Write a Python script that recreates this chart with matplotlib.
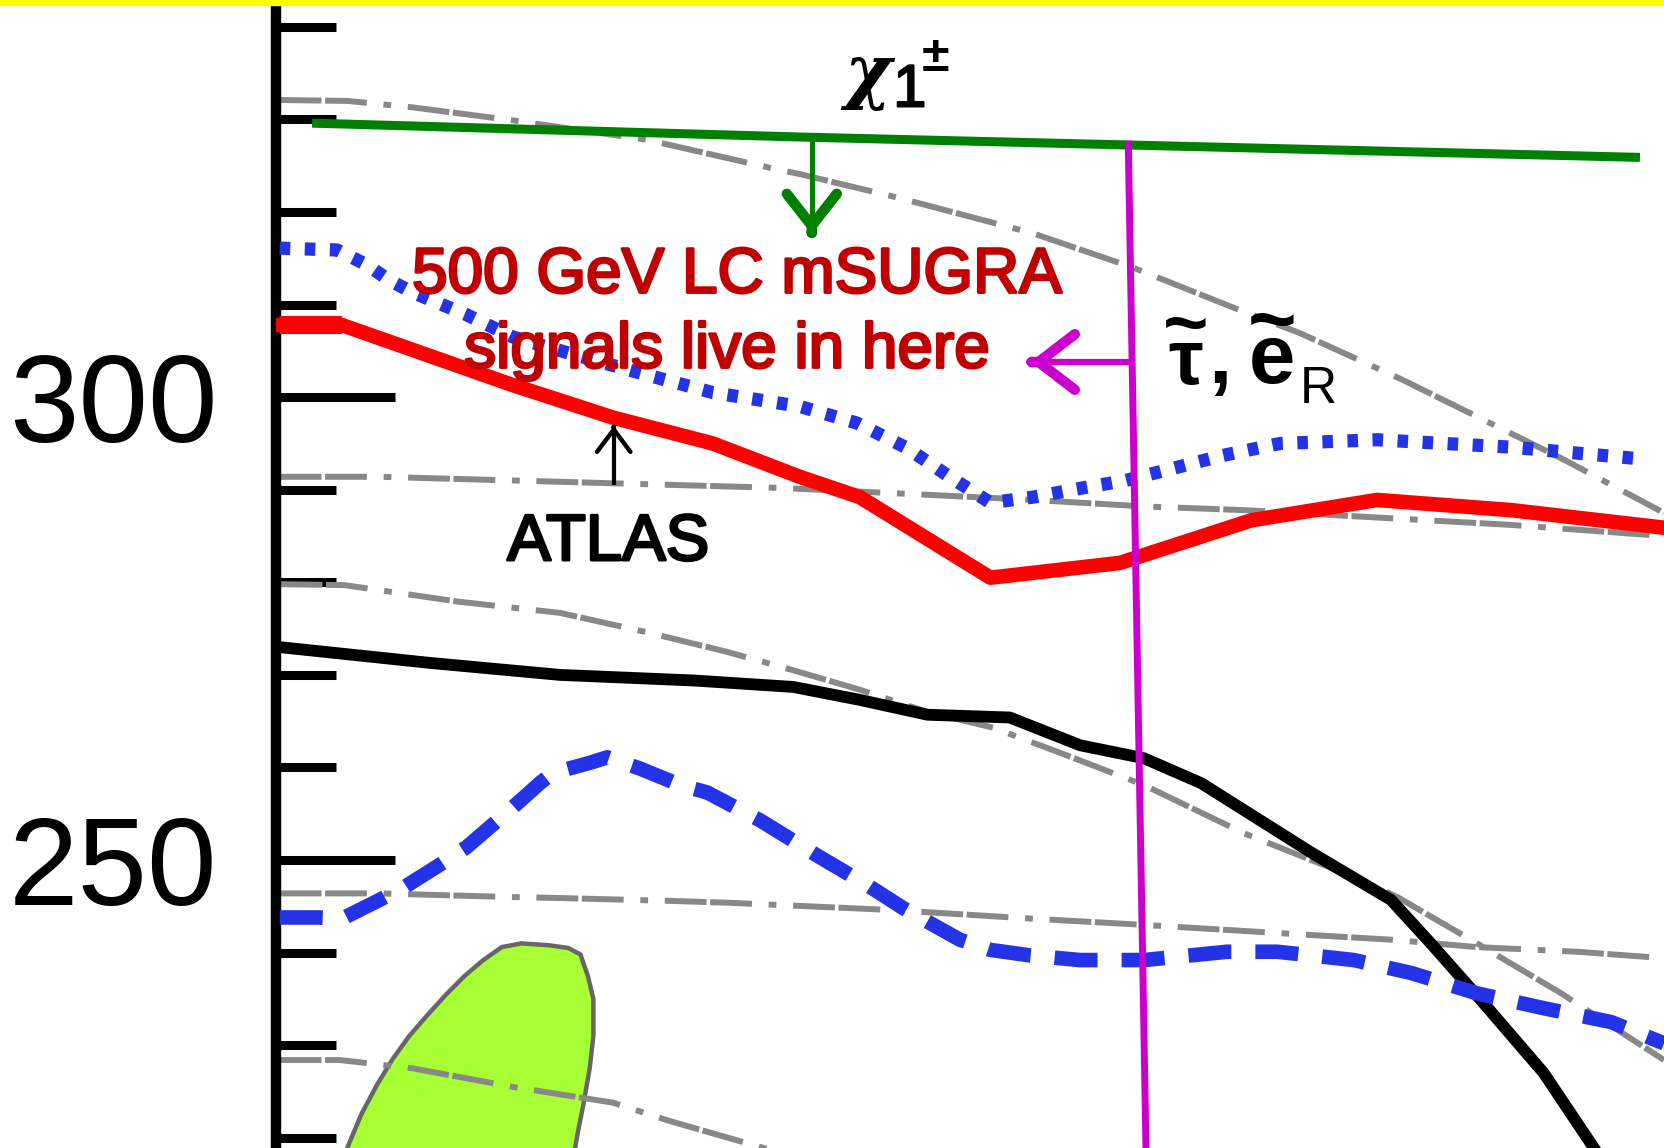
import numpy as np
import matplotlib
matplotlib.use("Agg")
import matplotlib.pyplot as plt
from matplotlib.lines import Line2D
from matplotlib import patheffects as pe

plt.rcParams['font.family'] = ['Liberation Sans', 'DejaVu Sans']

# --- curves (x in arbitrary m0-like units, y in GeV) ---
chargino_x = [3.9, 56.6, 147.4]
chargino_y = [329.6, 328.1, 325.9]

atlas_x = [0.4, 7.1, 14.8, 25.6, 36.4, 47.2, 56.6, 63.1, 77.2, 91.2, 105.4, 119.0, 133.5, 150.0]
atlas_y = [307.8, 307.8, 305.1, 301.3, 297.8, 295.0, 291.4, 289.2, 280.5, 282.1, 286.7, 288.9, 287.8, 285.9]

dotted_x = [0.4, 6.6, 9.8, 12.3, 14.8, 20.6, 25.6, 31.5, 40.1, 47.2, 56.6, 62.8, 68.2, 72.8,
            77.2, 81.8, 87.2, 91.8, 96.9, 102.3, 108.5, 119.0, 133.5, 147.9]
dotted_y = [316.1, 315.9, 314.3, 312.6, 311.3, 308.9, 306.5, 304.8, 302.4, 300.5, 299.0, 297.2,
            294.5, 291.4, 288.6, 289.2, 290.2, 291.0, 292.3, 293.7, 295.0, 295.4, 294.6, 293.3]

dashed_x = [0.4, 4.5, 7.2, 11.2, 13.9, 17.7, 20.6, 25.6, 28.5, 29.9, 33.9, 35.8, 39.3, 43.7,
            46.6, 52.3, 58.8, 63.9, 67.8, 73.9, 77.2, 81.5, 86.9, 93.8, 102.8, 108.2, 116.5,
            122.7, 129.8, 137.0, 144.3, 150.0]
dashed_y = [243.8, 243.8, 243.7, 245.7, 247.1, 249.5, 251.4, 255.7, 258.3, 259.4, 260.5, 261.1,
            259.9, 258.1, 257.3, 254.3, 250.3, 247.3, 244.8, 241.4, 240.3, 239.7, 239.2, 239.2,
            240.1, 240.1, 239.2, 237.8, 235.6, 234.0, 232.5, 230.2]

black_x = [0.4, 16.6, 30.7, 45.1, 55.9, 63.1, 70.4, 79.3, 86.9, 93.8, 100.0, 111.9, 120.5,
           124.8, 130.2, 137.0, 143.3]
black_y = [273.0, 271.3, 270.0, 269.4, 268.7, 267.3, 265.7, 265.4, 262.4, 261.0, 258.3, 250.8,
           245.7, 241.0, 234.9, 227.0, 217.6]

gray1_x = [0.4, 7.7, 14.8, 25.6, 40.1, 53.7, 56.6, 67.4, 81.8, 92.6, 103.4, 110.7, 121.9, 138.9, 150.0]
gray1_y = [332.1, 332.0, 331.3, 329.9, 327.8, 324.7, 324.1, 321.5, 317.7, 314.0, 309.7, 306.9,
           301.8, 293.4, 287.5]
gray2_x = [0.4, 11.2, 36.4, 54.5, 67.4, 81.8, 93.8, 104.6, 119.0, 133.5, 150.0]
gray2_y = [291.4, 291.4, 290.7, 290.2, 289.6, 288.9, 288.2, 287.8, 287.0, 286.2, 285.0]
gray3_x = [0.5, 7.4, 19.8, 30.7, 40.1, 48.7, 55.9, 63.1, 70.4, 77.5, 84.7, 93.8, 104.6, 115.4,
           121.2, 129.8, 138.9, 150.0]
gray3_y = [279.8, 279.7, 277.9, 276.7, 274.6, 272.5, 270.5, 268.4, 266.0, 264.3, 261.6, 258.1,
           252.9, 248.6, 246.0, 241.0, 235.6, 228.4]
gray4_x = [0.4, 6.9, 14.8, 25.6, 36.4, 42.6, 52.7, 58.8]
gray4_y = [228.4, 228.4, 227.5, 225.5, 223.8, 221.8, 218.9, 217.3]
gray5_x = [0.4, 11.2, 25.6, 30.7, 42.3, 48.7, 66.7, 81.2, 93.8, 111.9, 120.5, 129.8, 140.6, 150.0]
gray5_y = [246.4, 246.4, 246.0, 245.9, 245.6, 245.4, 244.6, 243.7, 243.0, 241.9, 241.4, 240.6,
           240.1, 239.4]

blob_x = [24.4, 26.5, 29.5, 31.6, 32.9, 33.7, 34.3, 34.3, 33.9, 33.2, 32.6, 32.1, 7.3, 7.7,
          9.2, 10.9, 12.6, 14.4, 16.4, 18.4, 20.4, 22.4]
blob_y = [240.6, 241.0, 240.8, 240.5, 239.8, 237.5, 235.0, 231.0, 227.5, 223.5, 220.5, 217.6,
          217.6, 218.9, 222.5, 225.7, 228.5, 231.0, 233.3, 235.5, 237.5, 239.2]

slepton_x = [92.1, 94.05]
slepton_y = [327.7, 217.0]

y_major = [250, 300]
y_minor = [220, 230, 240, 260, 270, 280, 290, 310, 320, 330, 340]


def arrow(ax, x0, y0, x1, y1, color, lw, head_lw, head_len, head_w):
    ax.plot([x0, x1], [y0, y1], color=color, lw=lw, solid_capstyle='butt', zorder=6)
    dx, dy = (x1 - x0) * 0.02, (y1 - y0) * 0.02
    ax.annotate('', xy=(x1, y1), xytext=(x1 - dx, y1 - dy),
                arrowprops=dict(arrowstyle=f'->,head_length={head_len},head_width={head_w}',
                                color=color, lw=head_lw, shrinkA=0, shrinkB=0,
                                mutation_scale=1, capstyle='round'),
                zorder=6)


fig = plt.figure(figsize=(16.64, 11.48), dpi=100)
ax = fig.add_axes([276 / 1664, 0, 1 - 276 / 1664, 1])
ax.set_xlim(0, 150)
ax.set_ylim(218.9, 342.9)

# green region + contours
ax.fill(blob_x, blob_y, facecolor='#A8FF33', edgecolor='#666666', lw=3.2, zorder=1)

dashdot = (0, (7.0, 0.6, 7.0, 2.8, 1.3, 2.8))
for gx, gy in [(gray1_x, gray1_y), (gray2_x, gray2_y), (gray3_x, gray3_y),
               (gray4_x, gray4_y), (gray5_x, gray5_y)]:
    ax.plot(gx, gy, color='#888888', lw=4.3, ls=dashdot, zorder=2)

ax.plot(black_x, black_y, color='black', lw=8.5, zorder=3, solid_joinstyle='round')
ax.plot(dashed_x, dashed_y, color='#2433E8', lw=10.5, ls=(0, (2.95, 1.65)), zorder=4)
ax.plot(atlas_x, atlas_y, color='#FF0000', lw=10.5, zorder=3, solid_joinstyle='round')
ax.plot(atlas_x[:2], atlas_y[:2], color='#FF0000', lw=13, solid_capstyle='butt', zorder=3)
ax.plot(dotted_x, dotted_y, color='#2433E8', lw=9.5, ls=(0, (0.8, 1.1)), zorder=3)
ax.plot(chargino_x, chargino_y, color='#008000', lw=6.5, solid_capstyle='butt', zorder=3)
ax.plot(slepton_x, slepton_y, color='#CC00CC', lw=5, solid_capstyle='butt', zorder=5)

# arrows
arrow(ax, 57.9, 328.1, 57.9, 317.6, '#008000', 3.6, 7.5, 23, 18)
arrow(ax, 92.3, 303.8, 81.5, 303.8, '#CC00CC', 4.5, 7.5, 26, 20)
arrow(ax, 36.5, 290.5, 36.5, 296.9, 'black', 3.0, 3.2, 16, 12)

# labels
red_fx = [pe.withStroke(linewidth=2.0, foreground='#C00000')]
ax.text(49.8, 311.3, '500 GeV LC mSUGRA', color='#C00000', fontsize=46,
        ha='center', va='baseline', zorder=7, path_effects=red_fx)
ax.text(48.7, 303.2, 'signals live in here', color='#C00000', fontsize=46,
        ha='center', va='baseline', zorder=7, path_effects=red_fx)
ax.text(35.9, 282.4, 'ATLAS', color='black', fontsize=47, ha='center', va='baseline',
        zorder=7, path_effects=[pe.withStroke(linewidth=2.0, foreground='black')])

ax.text(61.4, 332.6, 'χ', family='DejaVu Serif', fontsize=51, fontweight='bold',
        fontstyle='italic', ha='left', va='baseline', zorder=7)
ax.text(66.7, 331.4, '1', fontsize=43, ha='left', va='baseline', zorder=7,
        path_effects=[pe.withStroke(linewidth=1.5, foreground='black')])
ax.text(69.8, 335.2, '±', fontsize=36, fontweight='bold', ha='left', va='baseline', zorder=7)

# slepton label: tilde placed over each letter in a two-line text
ax.text(98.3, 299.7, '~\nτ', fontsize=56, fontweight='bold', linespacing=0.33,
        ha='center', va='bottom', multialignment='center', zorder=7)
ax.text(100.7, 301.5, ',', fontsize=60, fontweight='bold', ha='left', va='baseline', zorder=7)
ax.text(107.6, 299.7, '~\ne', fontsize=60, fontweight='bold', linespacing=0.31,
        ha='center', va='bottom', multialignment='center', zorder=7)
ax.text(110.6, 299.4, 'R', fontsize=37, ha='left', va='baseline', zorder=7)

# axis styling
for side in ['top', 'right', 'bottom']:
    ax.spines[side].set_visible(False)
ax.spines['left'].set_linewidth(7.5)
ax.set_xticks([])
ax.set_yticks(y_major)
ax.set_yticks(y_minor, minor=True)
ax.set_yticklabels([str(v) for v in y_major])
ax.tick_params(axis='y', which='major', direction='in', length=86, width=6.5,
               pad=42, labelsize=90)
ax.tick_params(axis='y', which='minor', direction='in', length=43, width=6.5)

# yellow bar along the top
fig.add_artist(Line2D([0, 1], [1 - 3 / 1148, 1 - 3 / 1148], transform=fig.transFigure,
                      color='#FFFF00', lw=4.5))

fig.savefig('out.png', dpi=100)
